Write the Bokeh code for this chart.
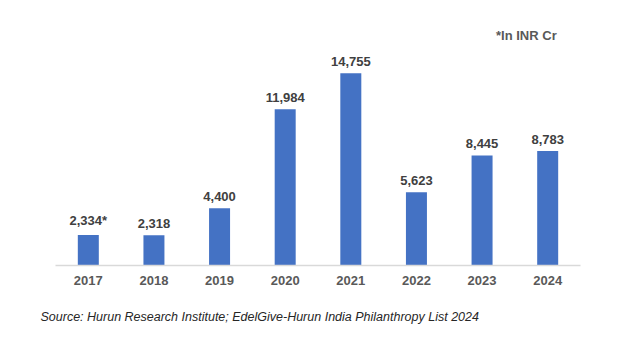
from bokeh.plotting import figure
from bokeh.models import ColumnDataSource, Title
from bokeh.core.properties import value
from bokeh.embed import file_html
from bokeh.resources import INLINE

years = ["2017", "2018", "2019", "2020", "2021", "2022", "2023", "2024"]
amounts = [2334, 2318, 4400, 11984, 14755, 5623, 8445, 8783]
value_labels = ["2,334*", "2,318", "4,400", "11,984", "14,755", "5,623", "8,445", "8,783"]
unit_note = "*In INR Cr"
source_note = "Source: Hurun Research Institute; EdelGive-Hurun India Philanthropy List 2024"

FONT = "Liberation Sans"

src = ColumnDataSource(dict(year=years, amount=amounts, label=value_labels))

p = figure(x_range=years, y_range=(0, 18190), width=624, height=344,
           output_backend="svg", toolbar_location=None,
           min_border_left=55, min_border_right=44, min_border_top=28,
           min_border_bottom=79)
p.outline_line_color = None
p.background_fill_color = "white"
p.border_fill_color = "white"
p.xgrid.visible = False
p.ygrid.visible = False
p.yaxis.visible = False
p.x_range.range_padding = 0

p.vbar(x="year", top="amount", width=0.32, source=src, color="#4472C4", line_color=None)

p.text(x="year", y="amount", text="label", source=src,
       text_font=value(FONT), text_font_style="bold", text_font_size="13px",
       text_color="#404040", text_align="center", text_baseline="bottom", y_offset=-7)

p.text(x=[years[-1]], y=[17650], text=[unit_note],
       text_font=value(FONT), text_font_style="bold", text_font_size="13px",
       text_color="#595959", text_align="right", text_baseline="middle", x_offset=9)

ax = p.xaxis[0]
ax.axis_line_color = "#D9D9D9"
ax.axis_line_width = 1.5
ax.major_tick_line_color = None
ax.minor_tick_line_color = None
ax.major_tick_out = 0
ax.major_label_standoff = 10
ax.major_label_text_font = FONT
ax.major_label_text_font_style = "bold"
ax.major_label_text_font_size = "13px"
ax.major_label_text_color = "#595959"

t = Title(text=source_note, align="left", offset=-15, text_font=FONT,
          text_font_style="italic", text_font_size="12.5px", text_color="#262626",
          standoff=40)
p.add_layout(t, "below")

open("out.html", "w").write(file_html(p, INLINE))
